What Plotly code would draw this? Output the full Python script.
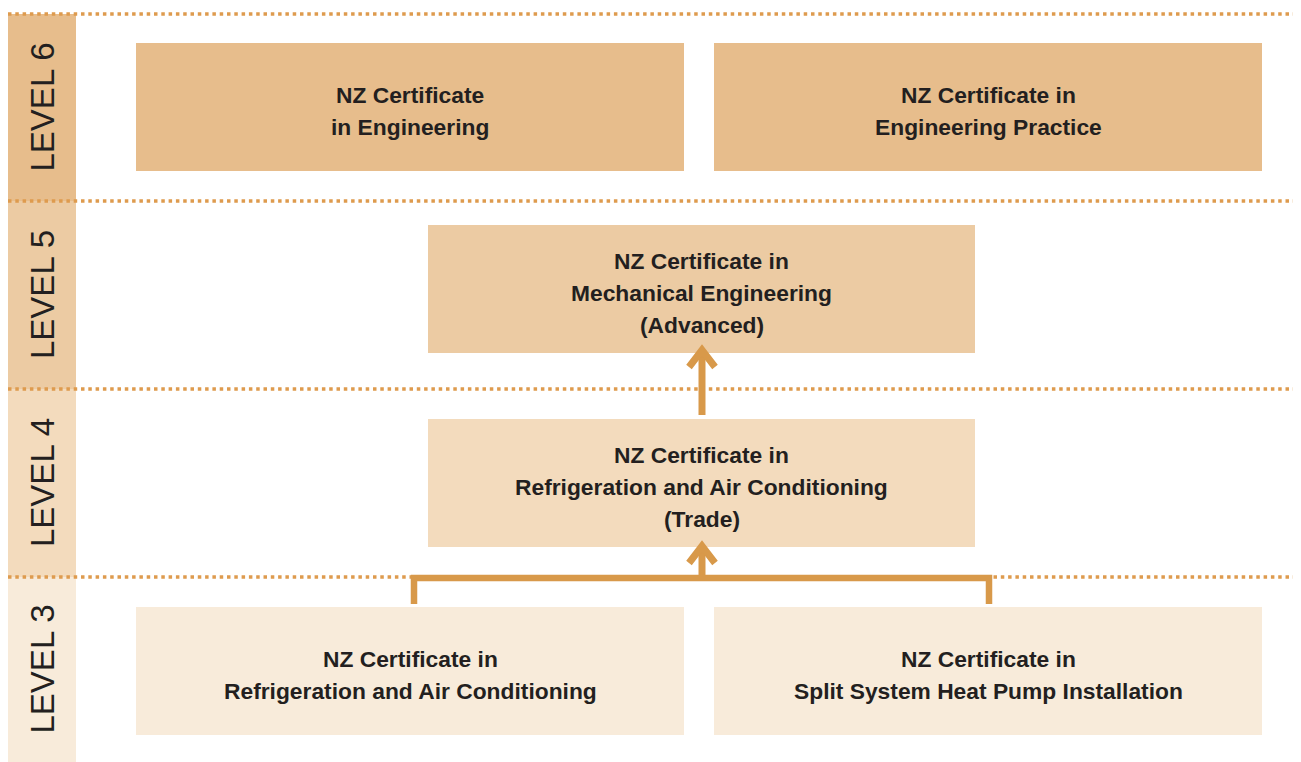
import plotly.graph_objects as go

# ---- data ----
level_labels = ["LEVEL 6", "LEVEL 5", "LEVEL 4", "LEVEL 3"]
level_colors = ["#E7BD8C", "#ECCBA3", "#F3DBBD", "#F8EBDA"]
band_edges = [14, 201, 389, 577, 762]          # y boundaries of the level bands (page px)

cert_texts = [
    ["NZ Certificate", "in Engineering"],
    ["NZ Certificate in", "Engineering Practice"],
    ["NZ Certificate in", "Mechanical Engineering", "(Advanced)"],
    ["NZ Certificate in", "Refrigeration and Air Conditioning", "(Trade)"],
    ["NZ Certificate in", "Refrigeration and Air Conditioning"],
    ["NZ Certificate in", "Split System Heat Pump Installation"],
]
cert_level_idx = [0, 0, 1, 2, 3, 3]
cert_col = ["left", "right", "center", "center", "left", "right"]

# ---- geometry / style ----
W, H = 1301, 762
OFF = 8  # page body margin
col_x = {"left": (136, 684), "right": (714, 1262), "center": (428, 975)}
box_top_pad = [29, 24, 30, 30]
box_h = 128
line_gap = 32
text_dy = 4
arrow_col = "#D8994A"
dot_col = "#DE9B4E"
text_col = "#231F20"
font_fam = "Liberation Sans, Arial, sans-serif"

fig = go.Figure()
shapes = []
annotations = []

# sidebar bands
for i, lab in enumerate(level_labels):
    y0, y1 = band_edges[i], band_edges[i + 1]
    shapes.append(dict(type="rect", x0=8, x1=76, y0=y0, y1=y1,
                       fillcolor=level_colors[i], line_width=0, layer="below"))
    annotations.append(dict(x=42, y=(y0 + y1) / 2, text=lab, textangle=-90,
                            showarrow=False, xanchor="center", yanchor="middle",
                            font=dict(family=font_fam, size=33, color=text_col)))

# dotted separators
for y in band_edges[:-1]:
    shapes.append(dict(type="line", x0=8, x1=W, y0=y, y1=y,
                       line=dict(color=dot_col, width=3.5, dash="3.5px,3.8px")))

# certificate boxes
box_geo = []
for txt, li, col in zip(cert_texts, cert_level_idx, cert_col):
    x0, x1 = col_x[col]
    y0 = band_edges[li] + box_top_pad[li]
    y1 = y0 + box_h
    box_geo.append((x0, x1, y0, y1))
    shapes.append(dict(type="rect", x0=x0, x1=x1, y0=y0, y1=y1,
                       fillcolor=level_colors[li], line_width=0, layer="below"))
    cy = (y0 + y1) / 2 + text_dy
    n = len(txt)
    for k, line in enumerate(txt):
        ly = cy + (k - (n - 1) / 2) * line_gap
        annotations.append(dict(x=(x0 + x1) / 2, y=ly, text="<b>" + line + "</b>",
                                showarrow=False, xanchor="center", yanchor="middle",
                                font=dict(family=font_fam, size=22.8, color=text_col)))

# arrows
def chevron(x, tip):
    return f"M {x-13},{tip+22} L {x},{tip+5} L {x+13},{tip+22}"

ax = 702
l5 = box_geo[2]; l4 = box_geo[3]
tip = l5[3] - 8
shapes.append(dict(type="line", x0=ax, x1=ax, y0=tip + 6, y1=l4[2] - 4,
                   line=dict(color=arrow_col, width=7)))
shapes.append(dict(type="path", path=chevron(ax, tip),
                   line=dict(color=arrow_col, width=7)))
l3a = box_geo[4]
tip2 = l4[3] - 6
by = band_edges[3] + 1
shapes.append(dict(type="path",
                   path=f"M 414,{l3a[2]-3} L 414,{by} L 989,{by} L 989,{l3a[2]-3}",
                   line=dict(color=arrow_col, width=6.5)))
shapes.append(dict(type="line", x0=ax, x1=ax, y0=tip2 + 6, y1=by,
                   line=dict(color=arrow_col, width=7)))
shapes.append(dict(type="path", path=chevron(ax, tip2),
                   line=dict(color=arrow_col, width=7)))

fig.update_layout(
    width=W - OFF, height=H - OFF,
    margin=dict(l=0, r=0, t=0, b=0),
    paper_bgcolor="white", plot_bgcolor="white",
    xaxis=dict(range=[OFF, W], visible=False, fixedrange=True),
    yaxis=dict(range=[H, OFF], visible=False, fixedrange=True),
    shapes=shapes, annotations=annotations, showlegend=False,
)
fig.write_html("out.html", config={"displayModeBar": False})
